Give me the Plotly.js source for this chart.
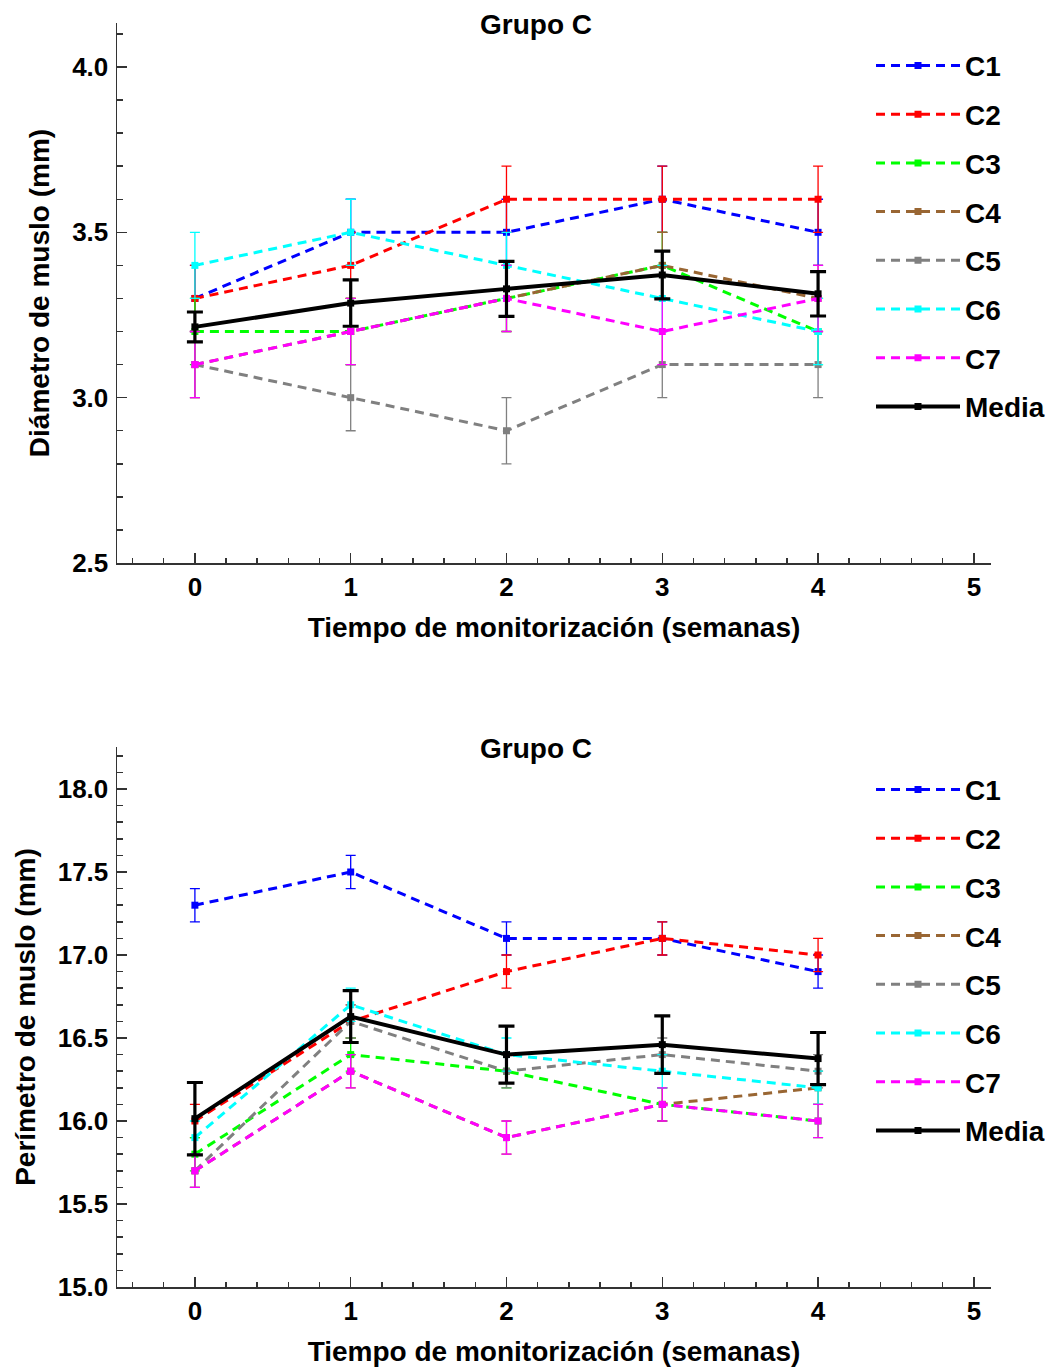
<!DOCTYPE html>
<html>
<head>
<meta charset="utf-8">
<script src="https://cdn.plot.ly/plotly-3.0.1.min.js"></script>
<style>
  html, body { margin: 0; padding: 0; background: #ffffff; }
  #top { width: 1056px; height: 722px; }
  #bottom { width: 1056px; height: 645px; }
</style>
</head>
<body>
<div id="top"></div>
<div id="bottom"></div>
<script>
// ---- data ----
const weeks = [0, 1, 2, 3, 4];
const seriesNames = ["C1", "C2", "C3", "C4", "C5", "C6", "C7"];
const seriesColors = ["#0000ff", "#ff0000", "#00ff00", "#996633", "#808080", "#00ffff", "#ff00ff"];

// Diámetro de muslo (mm)
const diamC1 = [3.3, 3.5, 3.5, 3.6, 3.5];
const diamC2 = [3.3, 3.4, 3.6, 3.6, 3.6];
const diamC3 = [3.2, 3.2, 3.3, 3.4, 3.2];
const diamC4 = [3.1, 3.2, 3.3, 3.4, 3.3];
const diamC5 = [3.1, 3.0, 2.9, 3.1, 3.1];
const diamC6 = [3.4, 3.5, 3.4, 3.3, 3.2];
const diamC7 = [3.1, 3.2, 3.3, 3.2, 3.3];
const diamErr = [0.1, 0.1, 0.1, 0.1, 0.1];
const diamMedia = [3.214, 3.286, 3.329, 3.371, 3.314];
const diamMediaErr = [0.045, 0.070, 0.083, 0.072, 0.067];

// Perímetro de muslo (mm)
const perC1 = [17.3, 17.5, 17.1, 17.1, 16.9];
const perC2 = [16.0, 16.6, 16.9, 17.1, 17.0];
const perC3 = [15.8, 16.4, 16.3, 16.1, 16.0];
const perC4 = [15.7, 16.3, 15.9, 16.1, 16.2];
const perC5 = [15.7, 16.6, 16.3, 16.4, 16.3];
const perC6 = [15.9, 16.7, 16.4, 16.3, 16.2];
const perC7 = [15.7, 16.3, 15.9, 16.1, 16.0];
const perErr = [0.1, 0.1, 0.1, 0.1, 0.1];
const perMedia = [16.014, 16.629, 16.400, 16.460, 16.376];
const perMediaErr = [0.218, 0.156, 0.172, 0.173, 0.157];

const xTitle = "Tiempo de monitorización (semanas)";
const chartTitle = "Grupo C";

// ---- drawing ----
const FONT = "Liberation Sans, Arial, Helvetica, sans-serif";

function buildTraces(seriesList, err, media, mediaErr) {
  const traces = seriesList.map((ys, i) => ({
    x: weeks, y: ys, name: seriesNames[i], legendgroup: seriesNames[i],
    type: "scatter", mode: "lines+markers",
    line: { color: seriesColors[i], width: 3, dash: "9px,6px" },
    marker: { symbol: "square", size: 7, color: seriesColors[i] },
    error_y: { type: "data", array: err, visible: true, color: seriesColors[i], thickness: 1.3, width: 5 },
    hoverinfo: "x+y+name"
  }));
  traces.push({
    x: weeks, y: media, name: "Media", legendgroup: "Media",
    type: "scatter", mode: "lines+markers",
    line: { color: "#000000", width: 4 },
    marker: { symbol: "square", size: 7, color: "#000000" },
    error_y: { type: "data", array: mediaErr, visible: true, color: "#000000", thickness: 3.2, width: 8 },
    hoverinfo: "x+y+name"
  });
  return traces;
}

function buildLayout(height, mt, mb, yRange, yTitle) {
  const axisCommon = {
    showgrid: false, zeroline: false, showline: true,
    linecolor: "#333333", linewidth: 1.5,
    ticks: "inside", tickcolor: "#333333", tickwidth: 1.5, ticklen: 10,
    tickfont: { family: FONT, size: 26, color: "#000000", weight: "bold" }
  };
  return {
    width: 1056, height: height,
    margin: { l: 117, r: 65, t: mt, b: mb, autoexpand: false },
    paper_bgcolor: "#ffffff", plot_bgcolor: "#ffffff",
    font: { family: FONT, color: "#000000" },
    title: {
      text: chartTitle, font: { family: FONT, size: 28, weight: "bold", color: "#000000" },
      x: 536 / 1056, xanchor: "center", xref: "container",
      y: 1 - (mt + 1) / height, yanchor: "middle", yref: "container"
    },
    xaxis: Object.assign({}, axisCommon, {
      range: [-0.5, 5.11], tickmode: "linear", tick0: 0, dtick: 1,
      ticklabelstandoff: 0,
      minor: { tickmode: "linear", tick0: 0, dtick: 0.2, ticks: "inside", ticklen: 5, tickcolor: "#333333", tickwidth: 1.5 },
      title: { text: xTitle, font: { family: FONT, size: 28, weight: "bold", color: "#000000" }, standoff: 16 }
    }),
    yaxis: Object.assign({}, axisCommon, {
      range: yRange, tickmode: "linear", tick0: 0, dtick: 0.5, tickformat: ".1f",
      ticklabelstandoff: 2,
      minor: { tickmode: "linear", tick0: 0, dtick: 0.1, ticks: "inside", ticklen: 6, tickcolor: "#333333", tickwidth: 1.5 },
      title: { text: yTitle, font: { family: FONT, size: 28, weight: "bold", color: "#000000" }, standoff: 14 }
    }),
    showlegend: true,
    legend: {
      x: (871 - 117) / 874, xanchor: "left", y: 0.967, yanchor: "top",
      bgcolor: "rgba(0,0,0,0)", borderwidth: 0,
      font: { family: FONT, size: 28, weight: "bold", color: "#000000" },
      tracegroupgap: 9.3, traceorder: "grouped", itemwidth: 84
    }
  };
}

const config = { staticPlot: true, displayModeBar: false };

Plotly.newPlot("top",
  buildTraces([diamC1, diamC2, diamC3, diamC4, diamC5, diamC6, diamC7], diamErr, diamMedia, diamMediaErr),
  buildLayout(722, 23, 159, [2.5, 4.133], "Diámetro de muslo (mm)"), config);

Plotly.newPlot("bottom",
  buildTraces([perC1, perC2, perC3, perC4, perC5, perC6, perC7], perErr, perMedia, perMediaErr),
  buildLayout(645, 25, 80, [15.0, 18.253], "Perímetro de muslo (mm)"), config);
</script>
</body>
</html>
